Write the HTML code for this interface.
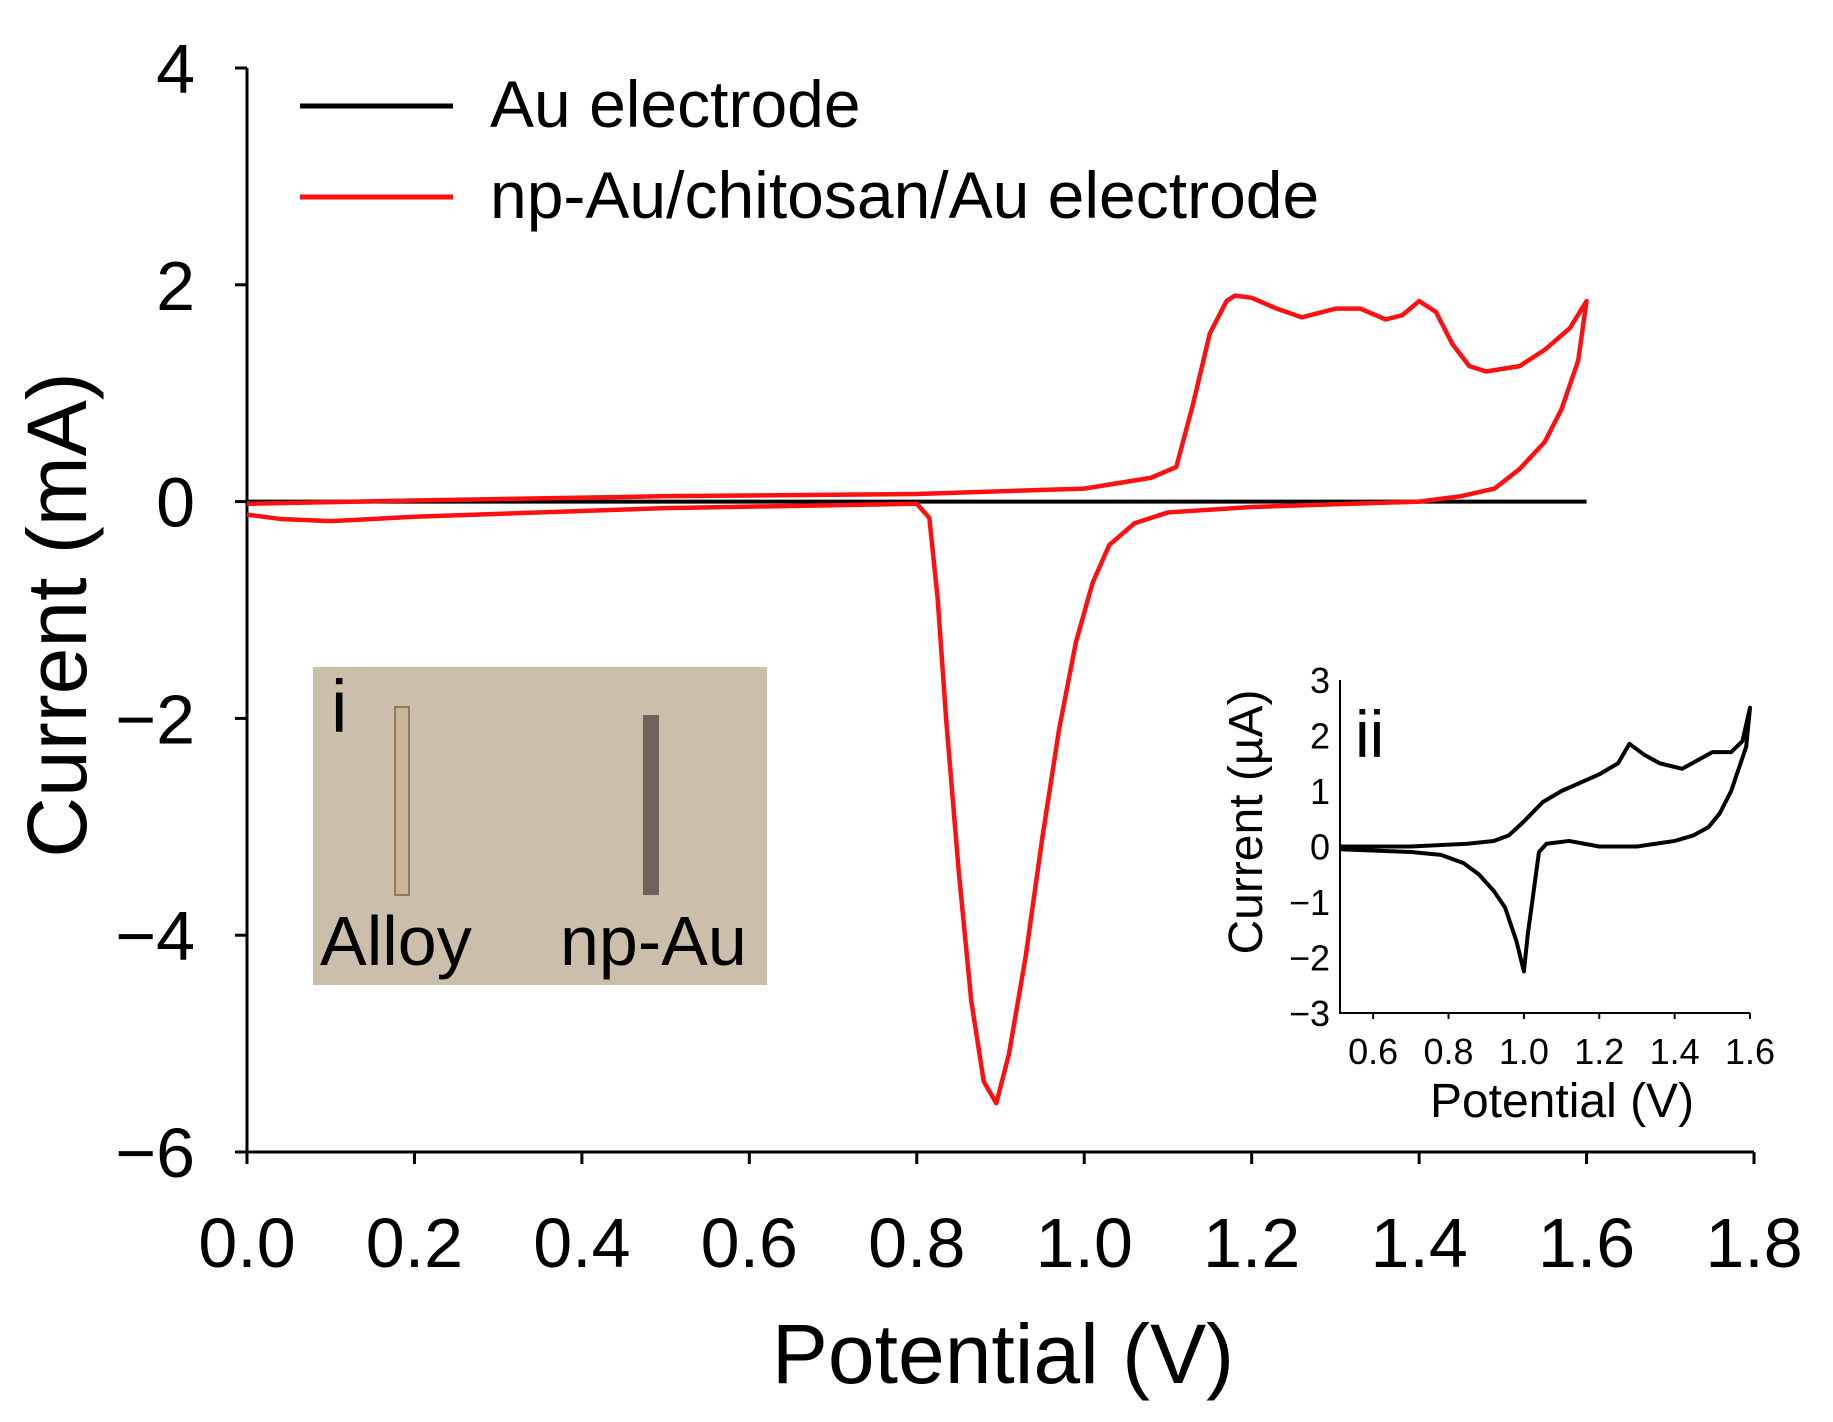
<!DOCTYPE html>
<html><head><meta charset="utf-8"><style>
html,body{margin:0;padding:0;background:#fff;}
svg{display:block;font-family:"Liberation Sans",sans-serif;}
</style></head><body>
<svg id="chart" width="1833" height="1422" viewBox="0 0 1833 1422">
<rect x="313" y="667" width="454" height="318" fill="#cbbfac"/>
<rect x="395" y="707" width="14" height="188" fill="#c8b697" stroke="#8a7a66" stroke-width="2"/>
<rect x="643" y="715" width="16" height="180" fill="#6e625a"/>
<text x="331" y="732" font-size="74">i</text>
<text x="320" y="965" font-size="70">Alloy</text>
<text x="560" y="965" font-size="70">np-Au</text>
<g id="main"></g>
<g id="inset"></g>
</svg>
<script>
const xTicks=[0.0,0.2,0.4,0.6,0.8,1.0,1.2,1.4,1.6,1.8];
const yTicks=[4,2,0,-2,-4,-6];
const auX=[0,1.6];
const auY=[0,0];
const redX=[0,0.2,0.5,0.8,1.0,1.08,1.11,1.13,1.15,1.17,1.18,1.2,1.23,1.26,1.3,1.33,1.36,1.38,1.4,1.42,1.44,1.46,1.48,1.52,1.55,1.58,1.6,1.59,1.57,1.55,1.52,1.49,1.45,1.4,1.2,1.1,1.06,1.03,1.01,0.99,0.97,0.95,0.93,0.91,0.895,0.88,0.865,0.85,0.835,0.825,0.815,0.8,0.5,0.2,0.1,0.04,0];
const redY=[-0.02,0.01,0.05,0.07,0.12,0.22,0.32,0.9,1.55,1.85,1.9,1.88,1.78,1.7,1.78,1.78,1.68,1.72,1.85,1.75,1.45,1.25,1.2,1.25,1.4,1.6,1.85,1.3,0.85,0.55,0.3,0.12,0.05,0.0,-0.05,-0.1,-0.2,-0.4,-0.75,-1.3,-2.1,-3.1,-4.2,-5.1,-5.55,-5.35,-4.6,-3.4,-2.0,-0.9,-0.15,-0.02,-0.06,-0.14,-0.18,-0.16,-0.12];
const insXTicks=[0.6,0.8,1.0,1.2,1.4,1.6];
const insYTicks=[3,2,1,0,-1,-2,-3];
const insX=[0.51,0.7,0.85,0.92,0.96,1.0,1.05,1.1,1.15,1.2,1.25,1.28,1.32,1.36,1.42,1.46,1.5,1.55,1.58,1.6,1.59,1.57,1.55,1.52,1.49,1.45,1.4,1.3,1.2,1.12,1.06,1.04,1.03,1.01,1.0,0.98,0.95,0.92,0.88,0.84,0.78,0.7,0.51];
const insY=[0.0,0.0,0.05,0.1,0.2,0.45,0.8,1.0,1.15,1.3,1.5,1.85,1.65,1.5,1.4,1.55,1.7,1.7,1.9,2.5,1.8,1.4,1.0,0.6,0.35,0.2,0.1,0.0,0.0,0.1,0.05,-0.1,-0.6,-1.6,-2.25,-1.7,-1.1,-0.8,-0.5,-0.3,-0.15,-0.1,-0.05];

const NS="http://www.w3.org/2000/svg";
function mk(parent,tag,attrs,text){const e=document.createElementNS(NS,tag);for(const k in attrs)e.setAttribute(k,attrs[k]);if(text!==undefined)e.textContent=text;parent.appendChild(e);return e;}

const X=v=>247+(v-0)/(1.8)*(1754-247);
const Y=v=>68+(4-v)/10*(1152-68);
const g=document.getElementById('main');
let ax=mk(g,'path',{d:`M${X(0)},${Y(4)} V${Y(-6)} H${X(1.8)}`,stroke:'#000','stroke-width':3,fill:'none'});


xTicks.forEach(t=>{
 let l=mk(g,'line',{x1:X(t),x2:X(t),y1:Y(-6),y2:Y(-6)+12,stroke:'#000','stroke-width':3});
 
 
 let tx=mk(g,'text',{x:X(t),y:1267,'font-size':70,'text-anchor':'middle'},t.toFixed(1));
 
 
});
yTicks.forEach(t=>{
 let l=mk(g,'line',{x1:X(0)-12,x2:X(0),y1:Y(t),y2:Y(t),stroke:'#000','stroke-width':3});
 
 
 let tx=mk(g,'text',{x:X(0)-52,y:Y(t)+25,'font-size':70,'text-anchor':'end'},t<0?'\u2212'+(-t):String(t));
 
 
});
let xt=mk(g,'text',{x:1003,y:1383,'font-size':84,'text-anchor':'middle'},'Potential (V)');


let yt=mk(g,'text',{x:0,y:0,'font-size':84,'text-anchor':'middle',transform:'translate(86,615) rotate(-90)'},'Current (mA)');


let auL=mk(g,'polyline',{points:auX.map((x,i)=>X(x)+','+Y(auY[i])).join(' '),stroke:'#000','stroke-width':4,fill:'none'});


let rL=mk(g,'polyline',{points:redX.map((x,i)=>X(x)+','+Y(redY[i])).join(' '),stroke:'#ff1010','stroke-width':4.5,fill:'none','stroke-linejoin':'round'});


let l1=mk(g,'line',{x1:300,x2:453,y1:106,y2:106,stroke:'#000','stroke-width':5});


let t1=mk(g,'text',{x:490,y:127,'font-size':66},'Au electrode');


let l2=mk(g,'line',{x1:300,x2:453,y1:197,y2:197,stroke:'#ff1010','stroke-width':5});


let t2=mk(g,'text',{x:490,y:218,'font-size':66},'np-Au/chitosan/Au electrode');



const IX=v=>1340+(v-0.512)/(1.6-0.512)*(1750-1340);
const IY=v=>680+(3-v)/6*(1013-680);
const h=document.getElementById('inset');
let iax=mk(h,'path',{d:`M${IX(0.512)},${IY(3)} V${IY(-3)} H${IX(1.6)}`,stroke:'#000','stroke-width':2,fill:'none'});


insXTicks.forEach(t=>{
 let l=mk(h,'line',{x1:IX(t),x2:IX(t),y1:IY(-3),y2:IY(-3)+6,stroke:'#000','stroke-width':2});
 
 
 let tx=mk(h,'text',{x:IX(t),y:1019+45,'font-size':36,'text-anchor':'middle'},t.toFixed(1));
 
 
});
insYTicks.forEach(t=>{
 let tx=mk(h,'text',{x:IX(0.512)-10,y:IY(t)+13,'font-size':36,'text-anchor':'end'},t<0?'\u2212'+(-t):String(t));
 
 
});
let ixt=mk(h,'text',{x:1562,y:1117,'font-size':48,'text-anchor':'middle'},'Potential (V)');


let iyt=mk(h,'text',{x:0,y:0,'font-size':48,'text-anchor':'middle',transform:'translate(1262,822) rotate(-90)'},'Current (\u00b5A)');


let iL=mk(h,'text',{x:1355,y:757,'font-size':66},'ii');


let icv=mk(h,'polyline',{points:insX.map((x,i)=>IX(x)+','+IY(insY[i])).join(' '),stroke:'#000','stroke-width':4,fill:'none','stroke-linejoin':'round'});


</script>
</body></html>
